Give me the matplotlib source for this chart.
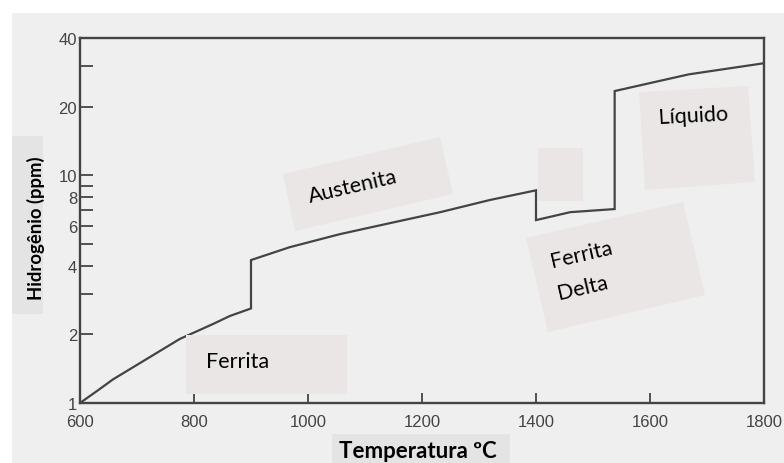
import matplotlib
matplotlib.use("Agg")
import matplotlib.pyplot as plt
from matplotlib.patches import Polygon
from matplotlib.transforms import Affine2D
from matplotlib.ticker import FixedLocator, NullFormatter

# solubility of hydrogen in iron
ferrite_t = [600, 630, 658, 717, 775, 833, 863, 900]
ferrite_h = [1.0, 1.13, 1.27, 1.56, 1.91, 2.22, 2.41, 2.6]
austenite_t = [900, 968, 1056, 1144, 1232, 1319, 1400]
austenite_h = [4.24, 4.83, 5.51, 6.16, 6.88, 7.78, 8.58]
delta_t = [1400, 1460, 1538]
delta_h = [6.35, 6.88, 7.1]
liquid_t = [1538, 1668, 1800]
liquid_h = [23.4, 27.7, 31.0]

x_ticks = [600, 800, 1000, 1200, 1400, 1600, 1800]
y_major = [1, 2, 4, 6, 8, 10, 20, 40]
y_minor = [3, 5, 7, 9, 30]

W, H = 784, 464
ink = "#444444"
paper = "#efefef"
box_col = "#ebe6e6"
label_box = "#e4e4e4"

fig = plt.figure(figsize=(W / 100, H / 100), dpi=100, facecolor="white")
# reference pixel coords (origin top-left) -> display
px = Affine2D().scale(0.01).scale(1, -1).translate(0, H / 100) + fig.dpi_scale_trans

fig.patches.append(Polygon([(12, 14), (W, 14), (W, H), (12, H)], closed=True,
                           facecolor=paper, edgecolor="none", transform=px,
                           zorder=-10))

ax = fig.add_axes([80 / W, 1 - 404 / H, (764 - 80) / W, (404 - 39) / H])
ax.set_facecolor("none")

temps = ferrite_t + austenite_t + delta_t + liquid_t
hydro = ferrite_h + austenite_h + delta_h + liquid_h
ax.plot(temps, hydro, color=ink, lw=1.6, solid_joinstyle="miter")

ax.set_yscale("log")
ax.set_xlim(600, 1800)
ax.set_ylim(1, 40)
for s in ax.spines.values():
    s.set_color(ink)
    s.set_linewidth(1.7)

ax.xaxis.set_major_locator(FixedLocator(x_ticks))
ax.set_xticklabels([str(t) for t in x_ticks])
ax.yaxis.set_major_locator(FixedLocator(y_major))
ax.set_yticklabels([str(v) for v in y_major])
ax.yaxis.set_minor_locator(FixedLocator(y_minor))
ax.yaxis.set_minor_formatter(NullFormatter())

ax.tick_params(axis="x", direction="in", length=7, width=1.3, color=ink,
               labelcolor=ink, pad=8)
ax.tick_params(axis="y", which="both", direction="in", length=9, width=1.3,
               color=ink, labelcolor=ink, pad=2)
for lab in ax.get_xticklabels() + ax.get_yticklabels():
    lab.set_fontfamily("Liberation Sans")
    lab.set_fontsize(12)

# axis titles sit in their own light boxes
fig.patches.append(Polygon([(12, 137), (43, 137), (43, 315), (12, 315)],
                           closed=True, facecolor=label_box, edgecolor="none",
                           transform=px, zorder=1))
fig.text(36, 228, "Hidrogênio (ppm)", transform=px, rotation=90,
         ha="center", va="center", family="Lato", weight="bold", size=13.3,
         color="black", zorder=2)
fig.patches.append(Polygon([(332, 435), (510, 435), (510, 464), (332, 464)],
                           closed=True, facecolor=label_box, edgecolor="none",
                           transform=px, zorder=1))
fig.text(418, 451, "Temperatura ºC", transform=px, ha="center", va="center",
         family="Lato", weight="bold", size=16, color="black", zorder=2)

# phase labels on pasted grey cards
cards = [
    [(186, 336), (347, 336), (347, 395), (186, 395)],
    [(283, 175), (440, 138), (453, 195), (295, 232)],
    [(538, 149), (583, 149), (583, 202), (538, 202)],
    [(639, 93), (748, 87), (755, 183), (645, 191)],
    [(526, 239), (683, 203), (705, 296), (548, 333)],
]
for c in cards:
    fig.patches.append(Polygon(c, closed=True, facecolor=box_col,
                               edgecolor="none", transform=px, zorder=3))

phase_font = dict(family="Lato", size=15.5, color="black", zorder=4,
                  ha="center", va="center", rotation_mode="anchor")
fig.text(238, 362, "Ferrita", transform=px, **phase_font)
fig.text(353, 187, "Austenita", transform=px, rotation=13, **phase_font)
fig.text(693, 116, "Líquido", transform=px, rotation=3, **phase_font)
fig.text(581, 255, "Ferrita", transform=px, rotation=13, **phase_font)
fig.text(583, 288, "Delta", transform=px, rotation=13, **phase_font)

fig.savefig("out.png", dpi=100, facecolor=fig.get_facecolor())
